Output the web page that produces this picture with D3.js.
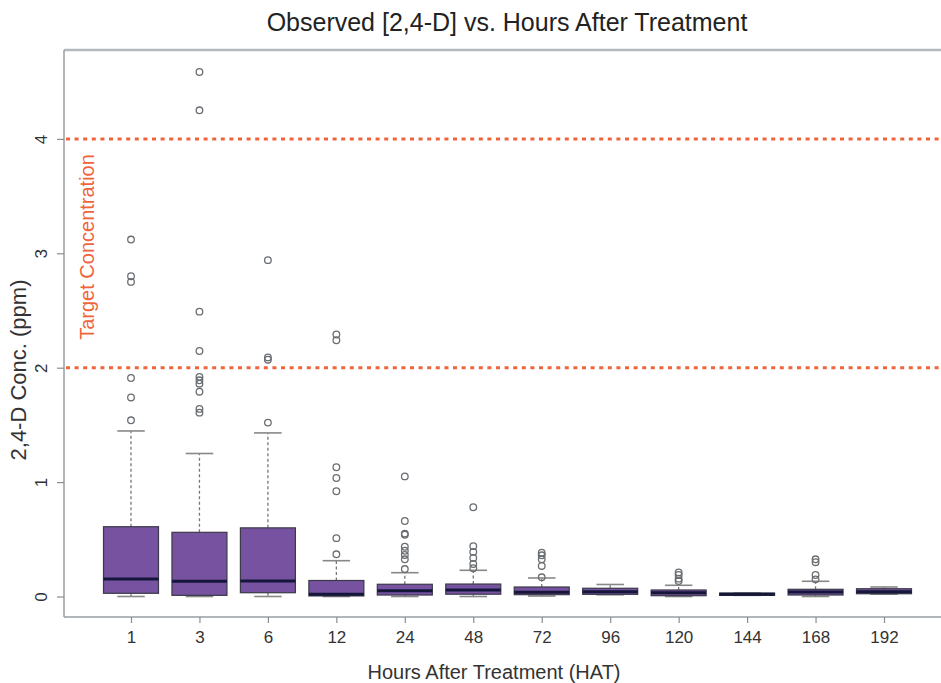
<!DOCTYPE html>
<html>
<head>
    <meta charset="utf-8" />
    <title>Observed [2,4-D] vs. Hours After Treatment</title>
    <style>
        body { margin: 0; background: #fff; }
        text { font-family: "Liberation Sans", Arial, sans-serif; }
    </style>
</head>
<body>
<script src="https://d3js.org/d3.v7.min.js"></script>
<script>
    // values (ppm)
    var hours = ["1", "3", "6", "12", "24", "48", "72", "96", "120", "144", "168", "192"];
    var whiskerLow  = [0, 0, 0, 0, 0, 0, 0.004, 0.015, 0, 0.01, 0, 0.02];
    var q1          = [0.028, 0.01, 0.033, 0.005, 0.013, 0.02, 0.016, 0.019, 0.007, 0.01, 0.013, 0.024];
    var medians     = [0.153, 0.133, 0.135, 0.02, 0.05, 0.057, 0.037, 0.042, 0.033, 0.02, 0.04, 0.042];
    var q3          = [0.61, 0.561, 0.60, 0.14, 0.107, 0.109, 0.083, 0.072, 0.057, 0.03, 0.063, 0.068];
    var whiskerHigh = [1.447, 1.25, 1.43, 0.313, 0.208, 0.229, 0.162, 0.105, 0.098, 0.03, 0.133, 0.083];
    var outliers = [
        [1.54, 1.74, 1.91, 2.75, 2.80, 3.12],
        [1.607, 1.64, 1.79, 1.86, 1.89, 1.92, 2.146, 2.49, 4.25, 4.585],
        [1.52, 2.07, 2.09, 2.94],
        [0.369, 0.51, 0.92, 1.036, 1.13, 2.24, 2.29],
        [0.24, 0.325, 0.363, 0.40, 0.435, 0.54, 0.55, 0.66, 1.05],
        [0.247, 0.284, 0.337, 0.39, 0.44, 0.78],
        [0.168, 0.267, 0.325, 0.36, 0.383],
        [],
        [0.135, 0.156, 0.188, 0.21],
        [],
        [0.15, 0.188, 0.30, 0.325],
        []
    ];
    var yTicks = [0, 1, 2, 3, 4];
    var targetLines = [2, 4];

    var width = 941, height = 683;
    var plot = {left: 64, top: 50, right: 960, bottom: 617};
    var boxWidth = 55;

    var svg = d3.select("body").append("svg")
                .attr("width", width)
                .attr("height", height);

    var x = d3.scalePoint().domain(hours).range([131, 884]);
    var y = d3.scaleLinear().domain([0, 4]).range([596.5, 138.9]);

    var groups = hours.map(function(h, i) {
        return {h: h, lo: whiskerLow[i], q1: q1[i], med: medians[i], q3: q3[i], hi: whiskerHigh[i], out: outliers[i]};
    });

    // frame: top and bottom rules, left axis line
    svg.append("line").attr("x1", plot.left).attr("x2", plot.right)
       .attr("y1", plot.top).attr("y2", plot.top)
       .attr("stroke", "#b4b8bc").attr("stroke-width", 2.5);
    svg.append("line").attr("x1", plot.left).attr("x2", plot.right)
       .attr("y1", plot.bottom).attr("y2", plot.bottom)
       .attr("stroke", "#9a9ea2").attr("stroke-width", 1.5);
    svg.append("line").attr("x1", plot.left).attr("x2", plot.left)
       .attr("y1", plot.top).attr("y2", plot.bottom)
       .attr("stroke", "#9a9ea2").attr("stroke-width", 1.5);

    // y axis
    var yAxis = svg.append("g")
                   .attr("transform", "translate(" + plot.left + ",0)")
                   .call(d3.axisLeft(y).tickValues(yTicks).tickSize(7).tickFormat(d3.format("d")));
    yAxis.select(".domain").remove();
    yAxis.selectAll(".tick line").attr("stroke", "#8a8e92").attr("stroke-width", 1.2);
    yAxis.selectAll(".tick text")
         .attr("x", null).attr("dy", null)
         .attr("transform", "translate(-17,0) rotate(-90)")
         .attr("text-anchor", "middle")
         .attr("font-size", 17)
         .attr("font-family", "Liberation Sans, Arial, sans-serif")
         .attr("fill", "#333");

    // x axis
    var xAxis = svg.append("g")
                   .attr("transform", "translate(0," + plot.bottom + ")")
                   .call(d3.axisBottom(x).tickSize(6).tickPadding(8));
    xAxis.select(".domain").remove();
    xAxis.selectAll(".tick line").attr("stroke", "#8a8e92").attr("stroke-width", 1.2);
    xAxis.selectAll(".tick text")
         .attr("font-size", 17)
         .attr("font-family", "Liberation Sans, Arial, sans-serif")
         .attr("fill", "#333");

    // target concentration lines
    svg.selectAll(".target")
       .data(targetLines)
       .enter().append("line")
       .attr("class", "target")
       .attr("x1", plot.left + 2).attr("x2", plot.right)
       .attr("y1", d => y(d)).attr("y2", d => y(d))
       .attr("stroke", "#f0643c")
       .attr("stroke-width", 3)
       .attr("stroke-dasharray", "4,4.6");

    svg.append("text")
       .attr("transform", "translate(94,247) rotate(-90)")
       .attr("text-anchor", "middle")
       .attr("font-size", 20)
       .attr("fill", "#f0643c")
       .text("Target Concentration");

    // boxes
    var g = svg.append("g").selectAll("g")
               .data(groups)
               .enter().append("g");

    g.append("line")
     .attr("x1", d => x(d.h)).attr("x2", d => x(d.h))
     .attr("y1", d => y(d.q3)).attr("y2", d => y(d.hi))
     .attr("stroke", "#777").attr("stroke-width", 1.3)
     .attr("stroke-dasharray", "3,2.5");
    g.append("line")
     .attr("x1", d => x(d.h)).attr("x2", d => x(d.h))
     .attr("y1", d => y(d.q1)).attr("y2", d => y(d.lo))
     .attr("stroke", "#777").attr("stroke-width", 1.3)
     .attr("stroke-dasharray", "3,2.5");
    g.selectAll(".cap")
     .data(d => [{h: d.h, v: d.hi}, {h: d.h, v: d.lo}])
     .enter().append("line")
     .attr("x1", d => x(d.h) - boxWidth / 4).attr("x2", d => x(d.h) + boxWidth / 4)
     .attr("y1", d => y(d.v)).attr("y2", d => y(d.v))
     .attr("stroke", "#888").attr("stroke-width", 1.6);

    g.append("rect")
     .attr("x", d => x(d.h) - boxWidth / 2)
     .attr("width", boxWidth)
     .attr("y", d => y(d.q3))
     .attr("height", d => Math.max(y(d.q1) - y(d.q3), 1))
     .attr("fill", "#7752a0")
     .attr("stroke", "#3a3a48")
     .attr("stroke-width", 1.2);

    g.append("line")
     .attr("x1", d => x(d.h) - boxWidth / 2).attr("x2", d => x(d.h) + boxWidth / 2)
     .attr("y1", d => y(d.med)).attr("y2", d => y(d.med))
     .attr("stroke", "#14163a").attr("stroke-width", 3);

    g.selectAll("circle")
     .data(d => d.out.map(v => ({h: d.h, v: v})))
     .enter().append("circle")
     .attr("cx", d => x(d.h))
     .attr("cy", d => y(d.v))
     .attr("r", 3.3)
     .attr("fill", "none")
     .attr("stroke", "#6a6e72")
     .attr("stroke-width", 1.3);

    // titles
    svg.append("text")
       .attr("x", 507).attr("y", 31)
       .attr("text-anchor", "middle")
       .attr("font-size", 25)
       .attr("fill", "#222")
       .text("Observed [2,4-D] vs. Hours After Treatment");

    svg.append("text")
       .attr("x", 494).attr("y", 679)
       .attr("text-anchor", "middle")
       .attr("font-size", 20)
       .attr("fill", "#333")
       .text("Hours After Treatment (HAT)");

    svg.append("text")
       .attr("transform", "translate(26,370) rotate(-90)")
       .attr("text-anchor", "middle")
       .attr("font-size", 22)
       .attr("fill", "#333")
       .text("2,4-D Conc. (ppm)");
</script>
</body>
</html>
